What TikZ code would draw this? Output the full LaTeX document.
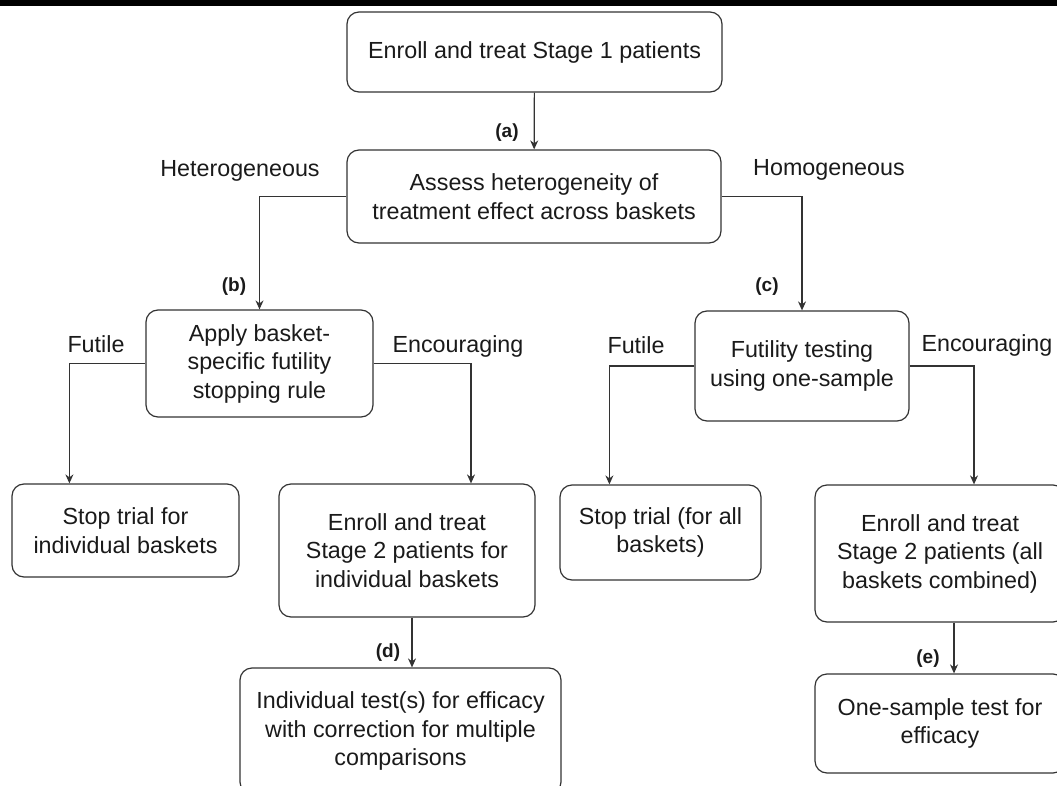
\documentclass[tikz,border=0pt]{standalone}
\usepackage{fontspec}
\setmainfont{Liberation Sans}
\usetikzlibrary{arrows.meta}
\definecolor{lineGray}{HTML}{333333}
\definecolor{textDark}{HTML}{1a1a1a}

\begin{document}
\begin{tikzpicture}[
      x=1pt, y=-1pt,
      box/.style={rectangle, rounded corners=12pt, draw=lineGray, line width=1.2pt,
                  align=center, inner sep=0pt, text=textDark,
                  font=\fontsize{23.3}{28.5}\selectfont},
      lbl/.style={text=textDark, font=\fontsize{23.3}{28.5}\selectfont},
      tag/.style={text=textDark, font=\fontsize{19}{22}\selectfont\bfseries},
      link/.style={draw=lineGray, line width=1.2pt},
      >={Stealth[length=9pt,width=8pt]}
    ]
    \useasboundingbox (0,0) rectangle (1057,786);
    \clip (0,0) rectangle (1057,786);
    \fill[black] (0,0) rectangle (1057,6);

    \node[box, minimum width=375pt, minimum height=80pt] (stage1) at (534.5,52) {Enroll and treat Stage 1 patients};
    \node[box, minimum width=374pt, minimum height=93pt] (assess) at (534,196.5) {Assess heterogeneity of\\treatment effect across baskets};

    \node[box, minimum width=227pt, minimum height=107pt] (basket) at (259.5,363.5) {Apply basket-\\specific futility\\stopping rule};
    \node[box, minimum width=214pt, minimum height=110pt] (futil) at (802,366) {Futility testing\\using one-sample};

    \node[box, minimum width=227pt, minimum height=93pt] (stopInd) at (125.5,530.5) {Stop trial for\\individual baskets};
    \node[box, minimum width=256pt, minimum height=133pt] (enrollInd) at (407,550.5) {Enroll and treat\\Stage 2 patients for\\individual baskets};
    \node[box, minimum width=321pt, minimum height=126pt] (testInd) at (400.5,731) {Individual test(s) for efficacy\\with correction for multiple\\comparisons};

    \node[box, minimum width=201pt, minimum height=95pt] (stopAll) at (660.5,532.5) {Stop trial (for all\\baskets)};
    \node[box, minimum width=250pt, minimum height=137pt] (enrollAll) at (940,553.5) {Enroll and treat\\Stage 2 patients (all\\baskets combined)};
    \node[box, minimum width=250pt, minimum height=99pt] (testAll) at (940,723.5) {One-sample test for\\efficacy};

    % branch labels
    \node[lbl] (hetero) at (240,171) {Heterogeneous};
    \node[lbl] (homo) at (829,170) {Homogeneous};
    \node[lbl] (futileL) at (96,344) {Futile};
    \node[lbl] (encourL) at (458,346) {Encouraging};
    \node[lbl] (futileR) at (636,345) {Futile};
    \node[lbl] (encourR) at (987,345) {Encouraging};

    \node[tag] (tagA) at (507,133) {(a)};
    \node[tag] (tagB) at (234,287) {(b)};
    \node[tag] (tagC) at (767,287) {(c)};
    \node[tag] (tagD) at (388,653) {(d)};
    \node[tag] (tagE) at (928,659) {(e)};

    \draw[link, ->] (stage1) -- (assess);
    \draw[link, ->] (assess.west) -| (basket.north);
    \draw[link, ->] (assess.east) -| (futil.north);
    \draw[link, ->] (basket.west) -| ([xshift=58pt]stopInd.north west);
    \draw[link, ->] (basket.east) -| ([xshift=64pt]enrollInd.north);
    \draw[link, ->] ([xshift=5pt]enrollInd.south) -- ([xshift=5pt]enrollInd.south |- testInd.north);
    \draw[link, ->] (futil.west) -| ([xshift=50pt]stopAll.north west);
    \draw[link, ->] (futil.east) -| ([xshift=34pt]enrollAll.north);
    \draw[link, ->] ([xshift=14pt]enrollAll.south) -- ([xshift=14pt]enrollAll.south |- testAll.north);
  \end{tikzpicture}
\end{document}
